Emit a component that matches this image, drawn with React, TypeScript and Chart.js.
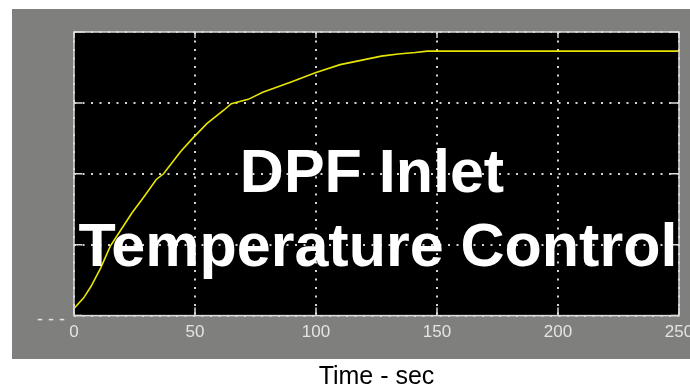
import React, { useEffect, useRef } from "react";
import { Chart, registerables } from "chart.js";

Chart.register(...registerables);

const timeSec = [0, 4, 7, 11, 15, 19, 24, 29, 34, 37, 44, 49, 55, 62, 65, 72, 78, 90, 100, 110, 120, 127, 134, 141, 146, 150, 200, 250];
const temperature = [0.1, 0.25, 0.41, 0.67, 0.98, 1.19, 1.45, 1.68, 1.92, 2.0, 2.31, 2.5, 2.71, 2.9, 2.99, 3.05, 3.15, 3.3, 3.43, 3.54, 3.61, 3.66, 3.69, 3.71, 3.73, 3.73, 3.73, 3.73];
const xTicks = [0, 50, 100, 150, 200, 250];
const yTicks = [0, 1, 2, 3, 4];
const titleLines = ["DPF Inlet", "Temperature Control"];
const xAxisTitle = "Time - sec";
const yLowLabel = "- - -";

const FONT = "'Liberation Sans', Arial, sans-serif";

const decorPlugin = {
  id: "decor",
  beforeDraw(chart: any) {
    const { ctx, chartArea } = chart;
    ctx.save();
    ctx.fillStyle = "#ffffff";
    ctx.fillRect(0, 0, chart.width, chart.height);
    ctx.fillStyle = "#7f7f7d";
    ctx.fillRect(12, 9, chart.width - 12, 350);
    ctx.fillStyle = "#000000";
    ctx.fillRect(chartArea.left, chartArea.top, chartArea.right - chartArea.left, chartArea.bottom - chartArea.top);
    ctx.restore();
  },
  afterDatasetsDraw(chart: any) {
    const { ctx, chartArea, scales } = chart;
    const { left, right, top, bottom } = chartArea;
    ctx.save();
    ctx.strokeStyle = "#dcdcdc";
    ctx.lineWidth = 1.5;
    ctx.beginPath();
    for (const v of xTicks) {
      const x = scales.x.getPixelForValue(v);
      ctx.moveTo(x, bottom);
      ctx.lineTo(x, bottom - 8);
      ctx.moveTo(x, top);
      ctx.lineTo(x, top + 6);
    }
    for (const v of yTicks) {
      const y = scales.y.getPixelForValue(v);
      ctx.moveTo(left, y);
      ctx.lineTo(left + 8, y);
      ctx.moveTo(right, y);
      ctx.lineTo(right - 8, y);
    }
    ctx.stroke();
    ctx.strokeRect(left, top, right - left, bottom - top);
    ctx.restore();
  },
  afterDraw(chart: any) {
    const { ctx, scales } = chart;
    ctx.save();
    ctx.fillStyle = "#ffffff";
    ctx.font = `bold 61px ${FONT}`;
    ctx.textAlign = "center";
    ctx.textBaseline = "alphabetic";
    ctx.fillText(titleLines[0], 372, 192);
    ctx.fillText(titleLines[1], 378, 266);
    ctx.font = `18px ${FONT}`;
    ctx.fillStyle = "#e4e4e4";
    ctx.textAlign = "left";
    ctx.textBaseline = "middle";
    ctx.fillText(yLowLabel, 37, scales.y.getPixelForValue(0) + 4);
    ctx.restore();
  },
};

export default function App() {
  const ref = useRef<HTMLCanvasElement | null>(null);
  useEffect(() => {
    if (!ref.current) return;
    const chart = new Chart(ref.current, {
      type: "line",
      data: {
        datasets: [
          {
            data: timeSec.map((t, i) => ({ x: t, y: temperature[i] })),
            borderColor: "#e6e600",
            borderWidth: 1.6,
            pointRadius: 0,
            tension: 0,
            fill: false,
          },
        ],
      },
      options: {
        animation: false,
        responsive: false,
        devicePixelRatio: 1,
        layout: { padding: { left: 74, top: 32, right: 11, bottom: 0 } },
        plugins: { legend: { display: false }, tooltip: { enabled: false }, title: { display: false } },
        scales: {
          x: {
            type: "linear",
            min: 0,
            max: 250,
            afterBuildTicks(scale: any) {
              scale.ticks = xTicks.map((v) => ({ value: v }));
            },
            afterFit(scale: any) {
              scale.paddingLeft = 0;
              scale.paddingRight = 0;
            },
            ticks: {
              color: "#e4e4e4",
              font: { family: FONT, size: 17 },
              padding: 7,
              maxRotation: 0,
              autoSkip: false,
            },
            grid: { color: "#d4d4d4", lineWidth: 2, drawTicks: false },
            border: { display: false, dash: [2, 6.5] },
            title: {
              display: true,
              text: xAxisTitle,
              color: "#000000",
              font: { family: FONT, size: 25 },
              padding: { top: 12, bottom: 0 },
            },
          },
          y: {
            type: "linear",
            min: 0,
            max: 4,
            afterBuildTicks(scale: any) {
              scale.ticks = yTicks.map((v) => ({ value: v }));
            },
            ticks: { display: false },
            grid: { color: "#d4d4d4", lineWidth: 2, drawTicks: false },
            border: { display: false, dash: [2, 6.5] },
          },
        },
      },
      plugins: [decorPlugin],
    });
    return () => chart.destroy();
  }, []);
  return (
    <div style={{ position: "absolute", left: 0, top: 0, width: 690, height: 392 }}>
      <canvas ref={ref} width={690} height={392} style={{ display: "block" }} />
    </div>
  );
}
